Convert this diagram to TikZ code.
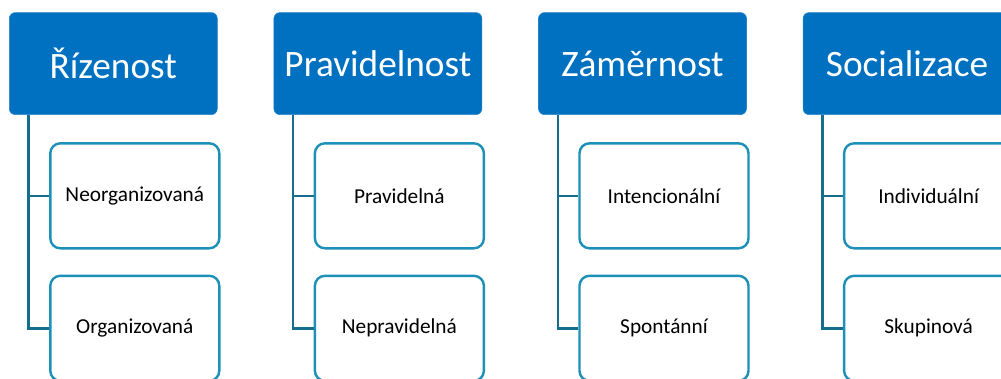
\documentclass[tikz,border=0pt]{standalone}
\usepackage{fontspec}
\setmainfont{Carlito}
\definecolor{headblue}{RGB}{0,112,192}
\definecolor{linkteal}{RGB}{21,110,142}
\definecolor{boxblue}{RGB}{28,144,184}
\tikzset{
  header/.style={fill=headblue, draw=headblue!85!white, line width=0.6pt, rounded corners=6pt,
    minimum width=208pt, minimum height=102pt, inner sep=0pt, text=white,
    font=\fontsize{37.3}{44}\selectfont},
  child/.style={fill=white, draw=boxblue, line width=2.4pt, rounded corners=10pt,
    minimum width=169pt, minimum height=105pt, inner sep=0pt, text=black,
    font=\fontsize{21.3}{25}\selectfont},
  link/.style={draw=linkteal, line width=2.4pt}
}
\begin{document}
\begin{tikzpicture}[x=1pt,y=-1pt]
\useasboundingbox (0,0) rectangle (1001,378);
\clip (0,0) rectangle (1001,378);
\foreach \i/\h/\a/\b in {0/Řízenost/Neorganizovaná/Organizovaná,
                         1/Pravidelnost/Pravidelná/Nepravidelná,
                         2/Záměrnost/Intencionální/Spontánní,
                         3/Socializace/Individuální/Skupinová}{
  \pgfmathsetmacro{\dx}{\i*264.6}
  \node[header] (h\i) at (113.3+\dx,63.6) {\h};
  \node[child] (a\i) at (134.8+\dx,195.8) {\a};
  \node[child] (b\i) at (134.8+\dx,328.3) {\b};
  \coordinate (t\i) at (28.6+\dx,115);
  \draw[link] (t\i) |- (a\i.west);
  \draw[link] (t\i) |- (b\i.west);
}
\end{tikzpicture}
\end{document}
